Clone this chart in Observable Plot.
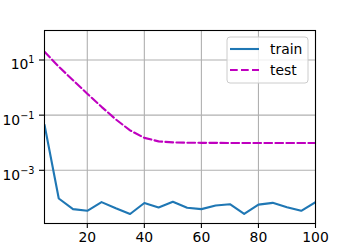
<!DOCTYPE html>
<html>
<head>
<meta charset="utf-8">
<script src="https://cdn.jsdelivr.net/npm/d3@7"></script>
<script src="https://cdn.jsdelivr.net/npm/@observablehq/plot@0.6"></script>
<style>
  html, body { margin: 0; padding: 0; background: white; }
  #chart { position: relative; width: 350px; height: 250px; }
</style>
</head>
<body>
<div id="chart"></div>
<script>
const epochs = [5, 10, 15, 20, 25, 30, 35, 40, 45, 50, 55, 60, 65, 70, 75, 80, 85, 90, 95, 100];
const trainLoss = [0.045, 9.5e-5, 3.9e-5, 3.4e-5, 7.0e-5, 4.2e-5, 2.6e-5, 6.5e-5, 4.5e-5, 7.2e-5,
                   4.4e-5, 3.9e-5, 5.3e-5, 5.9e-5, 2.6e-5, 5.7e-5, 6.6e-5, 4.6e-5, 3.4e-5, 7.0e-5];
const testLoss = [20, 5.7, 1.86, 0.6, 0.2, 0.07, 0.028, 0.015, 0.0112, 0.0103,
                  0.0100, 0.0099, 0.0099, 0.0098, 0.0098, 0.0098, 0.0098, 0.0098, 0.0098, 0.0098];
const seriesNames = ["train", "test"];
const seriesColors = ["#1f77b4", "#bf00bf"];
const xTicks = [20, 40, 60, 80, 100];
const yTicks = [10, 0.1, 0.001];
const yTickLabels = [["10", "1"], ["10", "\u22121"], ["10", "\u22123"]];

const trainData = epochs.map((e, i) => ({epoch: e, loss: trainLoss[i]}));
const testData = epochs.map((e, i) => ({epoch: e, loss: testLoss[i]}));

const fontFamily = "DejaVu Sans";
const fs = 13.9;
const labelFor = d => {
  const k = yTicks.findIndex(t => Math.abs(Math.log10(t) - Math.log10(d)) < 1e-6);
  return k >= 0 ? yTickLabels[k].join("") : String(d);
};

const plot = Plot.plot({
  width: 350,
  height: 250,
  marginLeft: 44,
  marginRight: 35,
  marginTop: 30,
  marginBottom: 27,
  style: {fontFamily, fontSize: fs + "px", background: "white", color: "black"},
  x: {domain: [5, 100]},
  y: {type: "log", domain: [Math.pow(10, -4.93), Math.pow(10, 2.07)]},
  marks: [
    Plot.gridX(xTicks, {stroke: "#b0b0b0", strokeOpacity: 1, strokeWidth: 1.1}),
    Plot.gridY(yTicks, {stroke: "#b0b0b0", strokeOpacity: 1, strokeWidth: 1.1}),
    Plot.axisX(xTicks, {tickSize: 5, tickPadding: 4, tickFormat: d => String(d), label: null, strokeWidth: 1.1}),
    Plot.axisY(yTicks, {tickSize: 5, tickPadding: 5, tickFormat: labelFor, label: null, strokeWidth: 1.1}),
    Plot.line(trainData, {x: "epoch", y: "loss", stroke: seriesColors[0], strokeWidth: 2.1, clip: true}),
    Plot.line(testData, {x: "epoch", y: "loss", stroke: seriesColors[1], strokeWidth: 2.1, strokeDasharray: "7.7,3.3", clip: true}),
    Plot.frame({stroke: "black", strokeWidth: 1.1})
  ]
});

document.getElementById("chart").appendChild(plot);

// Rewrite y tick labels with raised exponents (mathtext-like)
const svg = d3.select(plot);
svg.selectAll('g[aria-label="y-axis tick label"] text').each(function() {
  const t = d3.select(this);
  const txt = t.text();
  const k = yTickLabels.findIndex(p => p.join("") === txt);
  if (k < 0) return;
  const parts = yTickLabels[k];
  t.text(null).attr("dy", "5px");
  t.append("tspan").text(parts[0]);
  t.append("tspan").attr("font-size", (fs * 0.7) + "px").attr("dy", "-6px").text(parts[1]);
});

// Legend (matplotlib-style, upper right inside the axes)
const lg = svg.append("g").attr("font-family", fontFamily).attr("font-size", fs + "px")
  .attr("text-anchor", "start");
lg.append("rect").attr("x", 227).attr("y", 37).attr("width", 81).attr("height", 46)
  .attr("rx", 3).attr("fill", "white").attr("fill-opacity", 0.8)
  .attr("stroke", "#cccccc").attr("stroke-width", 1);
const rows = [49, 70];
seriesNames.forEach((name, i) => {
  lg.append("line").attr("x1", 230).attr("x2", 259).attr("y1", rows[i]).attr("y2", rows[i])
    .attr("stroke", seriesColors[i]).attr("stroke-width", 2.1)
    .attr("stroke-dasharray", i === 1 ? "7.7,3.3" : null);
  lg.append("text").attr("x", 270).attr("y", rows[i] + 5).attr("fill", "black")
    .attr("text-anchor", "start").text(name);
});
</script>
</body>
</html>
